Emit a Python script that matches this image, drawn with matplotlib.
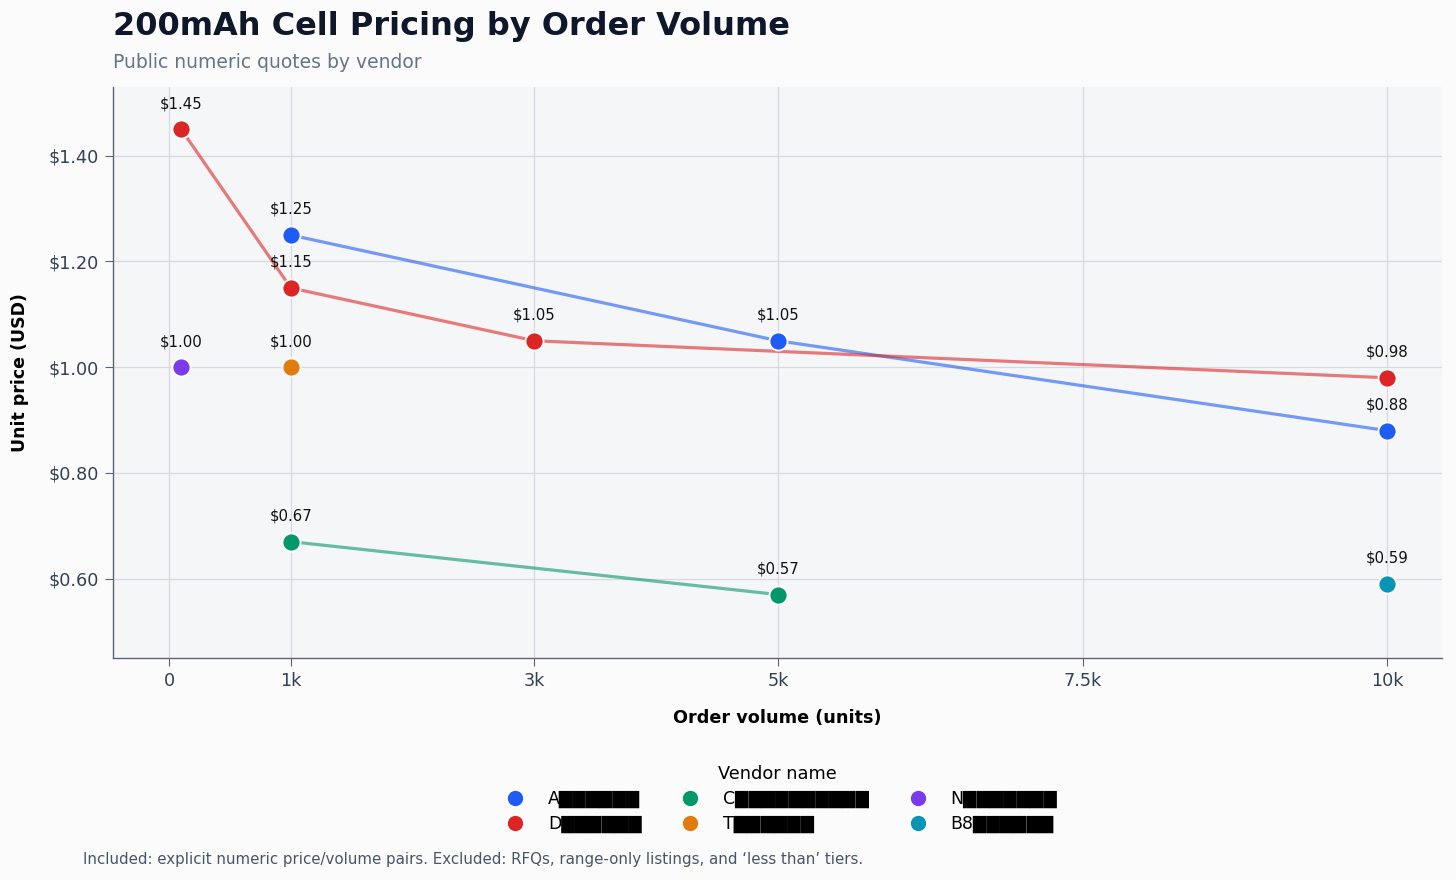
import matplotlib
matplotlib.use("Agg")
from matplotlib import pyplot as plt
from matplotlib.ticker import FuncFormatter

# Vendor quotes (order volume in units, unit price in USD)
vendors = ["A", "D", "C", "T", "N", "B8"]
redact = [6, 6, 10, 6, 7, 6]
colors = ["#1d5cf5", "#dc2626", "#059669", "#e07c0e", "#7c3aed", "#0894b4"]

a_vol = [1000, 5000, 10000]
a_price = [1.25, 1.05, 0.88]
d_vol = [100, 1000, 3000, 10000]
d_price = [1.45, 1.15, 1.05, 0.98]
c_vol = [1000, 5000]
c_price = [0.67, 0.57]
t_vol = [1000]
t_price = [1.00]
n_vol = [100]
n_price = [1.00]
b_vol = [10000]
b_price = [0.59]

vols = [a_vol, d_vol, c_vol, t_vol, n_vol, b_vol]
prices = [a_price, d_price, c_price, t_price, n_price, b_price]

x_ticks = [0, 1000, 3000, 5000, 7500, 10000]
x_labels = ["0", "1k", "3k", "5k", "7.5k", "10k"]
y_ticks = [0.6, 0.8, 1.0, 1.2, 1.4]

fig = plt.figure(figsize=(14.56, 8.8), dpi=100, facecolor="#fbfbfc")
ax = fig.add_axes([0.0776, 0.2523, 0.9128, 0.6488])
ax.set_facecolor("#f5f6f8")

for name, n, col, xs, ys in zip(vendors, redact, colors, vols, prices):
    label = name + "\u2588" * n
    if len(xs) > 1:
        ax.plot(xs, ys, color=col, lw=2.3, alpha=0.6, zorder=2)
    ax.plot(xs, ys, ls="none", marker="o", ms=13, mfc=col, mec="white",
            mew=1.3, zorder=3, label=label)
    for x, y in zip(xs, ys):
        ax.annotate("${:.2f}".format(y), (x, y), xytext=(0, 13),
                    textcoords="offset points", ha="center", va="bottom",
                    fontsize=10.8, color="#111111", zorder=4)

ax.set_xlim(-460, 10450)
ax.set_ylim(0.45, 1.53)
ax.set_xticks(x_ticks)
ax.set_xticklabels(x_labels)
ax.set_yticks(y_ticks)
ax.yaxis.set_major_formatter(FuncFormatter(lambda v, p: "${:.2f}".format(v)))
ax.grid(True, color="#d6d9e2", lw=0.9)
ax.set_axisbelow(True)

for s in ["top", "right"]:
    ax.spines[s].set_visible(False)
for s in ["left", "bottom"]:
    ax.spines[s].set_color("#5b6477")
    ax.spines[s].set_linewidth(1)
ax.tick_params(colors="#5b6477", labelcolor="#334155", labelsize=12.7, length=6, pad=4)

ax.set_xlabel("Order volume (units)", fontsize=12.7, fontweight="bold", labelpad=14)
ax.set_ylabel("Unit price (USD)", fontsize=12.5, fontweight="bold", labelpad=14)

fig.text(0.0776, 0.970, "200mAh Cell Pricing by Order Volume", fontsize=23,
         fontweight="bold", color="#0f172a", va="center")
fig.text(0.0776, 0.929, "Public numeric quotes by vendor", fontsize=13.5,
         color="#64748b", va="center")
fig.text(0.057, 0.023, "Included: explicit numeric price/volume pairs. Excluded: RFQs, "
         "range-only listings, and \u2018less than\u2019 tiers.", fontsize=10.8,
         color="#475569", va="center")

leg = ax.legend(loc="upper center", bbox_to_anchor=(0.5, -0.16), ncol=3,
                frameon=False, title="Vendor name", fontsize=12.5,
                title_fontsize=12.8, columnspacing=1.8, handletextpad=0.9,
                labelspacing=0.4, markerscale=0.95)

fig.savefig("out.png", dpi=100, facecolor=fig.get_facecolor())
